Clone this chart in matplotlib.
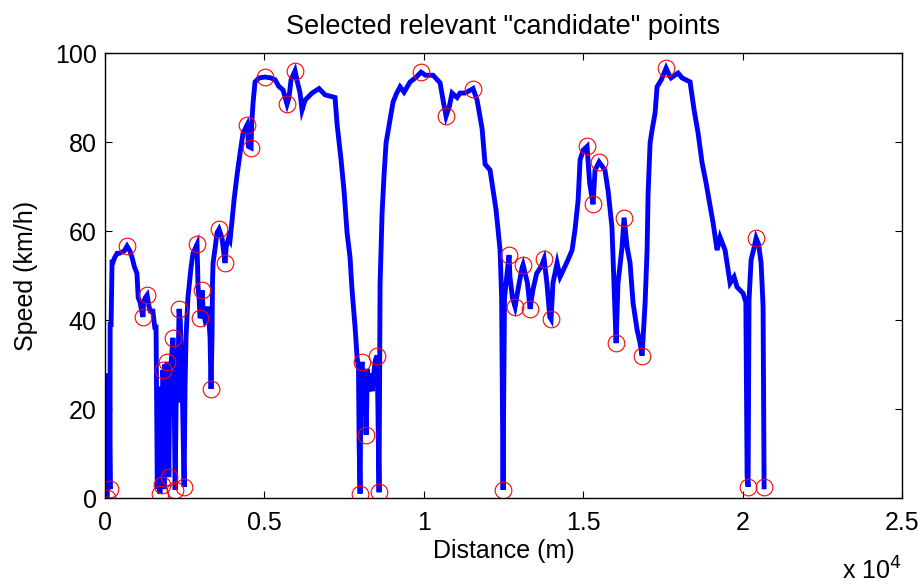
"""Speed profile with selected candidate points (MATLAB-style figure)."""

import matplotlib
matplotlib.use("Agg")
import matplotlib.pyplot as plt
from matplotlib.ticker import FuncFormatter

plt.rcParams['font.family'] = ['Liberation Sans', 'DejaVu Sans']

# speed profile along the route, distance (m) / speed (km/h)
distance = [
    30, 40, 60, 80, 100, 120, 157, 160, 190, 220, 250, 300, 380, 450, 600, 690,
    780, 850, 920, 1000, 1040, 1100, 1150, 1190, 1210, 1260, 1320, 1380, 1420,
    1500, 1560, 1600, 1620, 1640, 1660, 1690, 1725, 1745, 1770, 1790, 1810,
    1830, 1850, 1870, 1900, 1930, 1950, 1970, 2000, 2030, 2070, 2100, 2130,
    2150, 2170, 2200, 2230, 2280, 2320, 2360, 2400, 2430, 2480, 2510, 2540,
    2600, 2700, 2760, 2886, 2917, 2950, 2980, 3010, 3043, 3080, 3137, 3200,
    3231, 3294, 3325, 3357, 3370, 3388, 3450, 3513, 3576, 3670, 3764, 3800,
    3880, 3921, 3980, 4047, 4141, 4266, 4329, 4455, 4480, 4500, 4580, 4600,
    4643, 4705, 4831, 5019, 5200, 5333, 5450, 5584, 5650, 5709, 5770, 5835,
    5960, 6050, 6117, 6180, 6274, 6494, 6713, 6901, 7215, 7278, 7403, 7497,
    7592, 7686, 7748, 7843, 7905, 7950, 7970, 8000, 8030, 8062, 8100, 8140,
    8188, 8230, 8280, 8313, 8380, 8430, 8480, 8533, 8560, 8595, 8627, 8690,
    8752, 8815, 8940, 9035, 9150, 9254, 9380, 9568, 9750, 9913, 10050, 10289,
    10509, 10603, 10697, 10800, 10885, 11042, 11136, 11300, 11544, 11670,
    11827, 11921, 12077, 12266, 12391, 12440, 12470, 12485, 12500, 12530,
    12673, 12700, 12780, 12862, 12950, 13080, 13113, 13250, 13333, 13420,
    13540, 13680, 13772, 13860, 13950, 13991, 14050, 14180, 14273, 14360,
    14520, 14650, 14740, 14840, 14901, 15000, 15120, 15200, 15308, 15370,
    15497, 15680, 15780, 15900, 15936, 15990, 16030, 16090, 16218, 16281,
    16375, 16469, 16563, 16689, 16783, 16845, 16940, 17003, 17034, 17097,
    17159, 17253, 17316, 17450, 17599, 17700, 17755, 17975, 18100, 18351,
    18477, 18602, 18728, 18853, 18947, 19073, 19198, 19292, 19449, 19606,
    19731, 19825, 20014, 20100, 20140, 20171, 20200, 20265, 20350, 20422,
    20500, 20579, 20641, 20673,
]
speed = [
    0, 27, 0, 26, 2, 28, 2, 39, 39, 53, 53, 54, 55, 55, 55.5, 56.6,
    55.5, 54, 52, 50.5, 45, 44, 42, 40.7, 44, 45, 45.6, 43, 42,
    42, 38.4, 38.4, 19, 2, 25, 3, 1, 20, 24, 3, 28.8,
    27, 2, 30, 26, 28, 30.6, 20, 4.7, 25, 30, 33, 36,
    33, 22, 1.8, 22, 22, 42.5, 40, 30, 22, 2.5, 25, 36,
    45, 52, 55, 57, 47.4, 45, 40.4, 41, 46.7, 42, 40, 41,
    43, 36, 24.5, 37, 48.3, 52.8, 56, 59.6, 60.4, 58.4, 52.8, 56.4,
    58.6, 58, 62, 67, 72.6, 79, 82, 83.8, 82, 79, 78.7, 84,
    88.8, 93.5, 94.4, 94.6, 94.4, 94, 92.5, 91.7, 90, 88.5, 90, 94,
    96, 93, 91, 87.2, 89.4, 91, 92, 90.6, 90, 84, 76, 69,
    59.6, 54, 46.7, 38.4, 31.7, 29, 12, 1, 28, 30.6, 25, 29,
    14.2, 29, 24, 28, 24, 28, 31, 32, 20, 1.3, 48, 64,
    72.6, 79.8, 85, 89, 91, 92.4, 91.2, 93.5, 94.5, 95.7, 95, 95,
    93.3, 89.4, 85.8, 88, 91, 90, 91, 91, 92, 89.4,
    83, 75, 73.7, 64.7, 55.7, 45, 18, 1.8, 18, 45,
    54.6, 49.7, 45, 43, 46.7, 51.7, 52.4, 48.3, 42.5, 46.7,
    50.5, 52, 53.7, 48.3, 40.7, 40.2, 48.3, 52.8, 49.7, 51,
    53.5, 55.7, 60.2, 67, 76, 78.2, 79, 70.8, 66, 73.7,
    75.5, 73.7, 69, 60.9, 54, 43, 34.8, 48.3, 56.4, 63,
    56.4, 52.8, 43.8, 37.8, 34.8, 32, 43.8, 55.7, 68.5, 79.8,
    82.7, 86.5, 92.4, 94, 96.6, 95, 94.4, 95.5, 94.4, 93.5,
    87.2, 82, 75.3, 70.8, 67, 61.8, 55.7, 58.6, 55.7, 48.3,
    49.7, 47.4, 46, 44, 5, 2.5, 44.5, 53.5, 56, 58.4,
    57, 52.8, 43, 2.5,
]

# selected candidate points
cand_distance = [
    60, 157, 690, 1190, 1320, 1725, 1790, 1810, 1950, 2000, 2130, 2200, 2320,
    2480, 2886, 2980, 3043, 3325, 3576, 3764, 4455, 4580, 5019, 5709, 5960,
    8000, 8062, 8188, 8533, 8595, 9913, 10697, 11544, 12485, 12673, 12862,
    13113, 13333, 13772, 13991, 15120, 15308, 15497, 16030, 16281, 16845,
    17599, 20171, 20422, 20673,
]
cand_speed = [
    0, 2, 56.6, 40.7, 45.6, 1, 3, 28.8, 30.6, 4.7, 36, 1.8, 42.5,
    2.5, 57, 40.4, 46.7, 24.5, 60.4, 52.8, 83.8, 78.7, 94.6, 88.5, 96,
    1, 30.6, 14.2, 32, 1.3, 95.7, 85.8, 92, 1.8, 54.6, 43,
    52.4, 42.5, 53.7, 40.2, 79, 66, 75.5, 34.8, 63, 32,
    96.6, 2.5, 58.4, 2.5,
]

fig = plt.figure(figsize=(9.23, 5.85), dpi=100)
ax = fig.add_axes([0.1138, 0.1487, 0.8635, 0.7607])

ax.plot(distance, speed, color=(0, 0, 1), lw=3.5, solid_joinstyle='miter')
ax.plot(cand_distance, cand_speed, 'o', mfc='none', mec='r', ms=12, mew=0.8)

ax.set_xlim(0, 25000)
ax.set_ylim(0, 100)
ax.set_xticks([0, 5000, 10000, 15000, 20000, 25000])
ax.set_yticks([0, 20, 40, 60, 80, 100])
ax.xaxis.set_major_formatter(FuncFormatter(lambda v, p: "{:g}".format(v / 1e4)))
ax.tick_params(direction='in', top=True, right=True, length=5, labelsize=18)
ax.tick_params(axis='x', pad=9)
ax.tick_params(axis='y', pad=6)
for s in ax.spines.values():
    s.set_linewidth(1)

ax.set_xlabel("Distance (m)", fontsize=18, labelpad=3)
ax.set_ylabel("Speed (km/h)", fontsize=18, labelpad=12)
ax.set_title('Selected relevant "candidate" points', fontsize=19.5, pad=14)
fig.text(0.9773, 0.0085, r"x 10$^4$", fontsize=18, ha='right', va='baseline')

fig.savefig("out.png", dpi=100)
